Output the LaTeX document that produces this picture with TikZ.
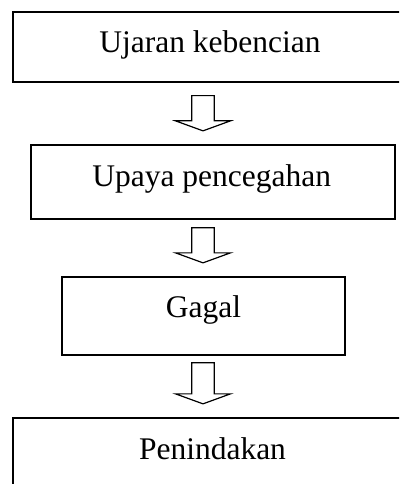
\documentclass[tikz,border=0pt]{standalone}
\usepackage{fontspec}
\setmainfont{Liberation Serif}
\usetikzlibrary{calc}
\tikzset{
  box/.style={draw=black, line width=1.3pt, rectangle, inner sep=0pt},
  lbl/.style={anchor=base, inner sep=0pt, font=\fontsize{31.5}{36}\selectfont},
  barrow/.style={draw=black, line width=1.2pt, fill=white, line join=miter}
}
% #1 upper node, #2 lower node, #3 gap below upper node (pt)
\newcommand\blockarrow[3]{%
  \draw[barrow] let \p1=(#1.south), \p2=(#2.north) in
    (203pt-11.3pt,\y1-#3pt) -- (203pt+11.3pt,\y1-#3pt)
    -- (203pt+11.3pt,\y2+23.5pt) -- (203pt+27.5pt,\y2+23.5pt)
    -- (203pt,\y2+13.5pt) -- (203pt-27.5pt,\y2+23.5pt)
    -- (203pt-11.3pt,\y2+23.5pt) -- cycle;}
\begin{document}
\begin{tikzpicture}[x=1pt,y=-1pt]
  \useasboundingbox (0,0) rectangle (399,484);
  \clip (0,0) rectangle (399,484);
  \node[box, minimum width=394pt, minimum height=70pt] (b1) at (210,47) {};
  \node[box, minimum width=364pt, minimum height=74pt] (b2) at (213,182) {};
  \node[box, minimum width=283pt, minimum height=78pt] (b3) at (203.5,316) {};
  \node[box, minimum width=399pt, minimum height=82pt] (b4) at (212.5,459) {};
  \node[lbl] (t1) at (210,53) {Ujaran kebencian};
  \node[lbl] (t2) at (211.7,186) {Upaya pencegahan};
  \node[lbl] (t3) at (203.4,317) {Gagal};
  \node[lbl] (t4) at (212.5,459) {Penindakan};
  \blockarrow{b1}{b2}{13}
  \blockarrow{b2}{b3}{8}
  \blockarrow{b3}{b4}{7}
\end{tikzpicture}
\end{document}
